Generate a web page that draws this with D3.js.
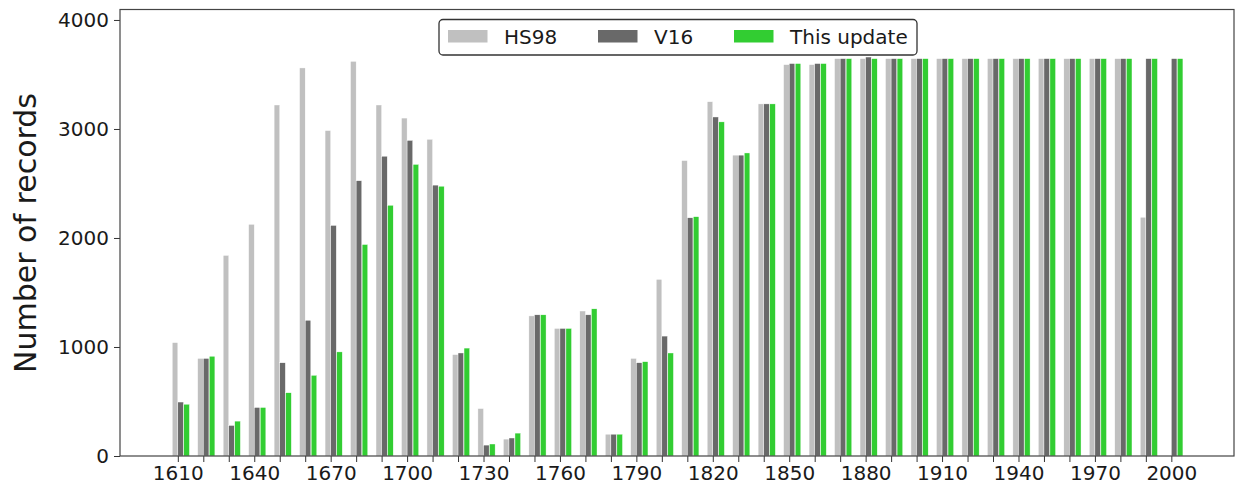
<!DOCTYPE html>
<html>
<head>
<meta charset="utf-8">
<script src="https://cdn.jsdelivr.net/npm/d3@7"></script>
<style>
  body { margin: 0; background: #fff; }
  text { font-family: "DejaVu Sans", sans-serif; fill: #1a1a1a; }
</style>
</head>
<body>
<svg id="chart" width="1238" height="489"></svg>
<script>
// decades shown on the x axis
const decades = d3.range(1610, 2001, 10);

const hs98 = [1040, 895, 1840, 2125, 3220, 3560, 2985, 3620, 3220, 3100,
  2905, 930, 435, 155, 1285, 1170, 1330, 200, 895, 1620,
  2710, 3250, 2760, 3230, 3590, 3590, 3645, 3645, 3645, 3645,
  3645, 3645, 3645, 3645, 3645, 3645, 3645, 3645, 2190, 0];

const v16 = [495, 895, 280, 445, 855, 1245, 2115, 2525, 2750, 2895,
  2485, 945, 100, 165, 1295, 1170, 1295, 200, 855, 1100,
  2185, 3110, 2760, 3230, 3600, 3600, 3645, 3660, 3645, 3645,
  3645, 3645, 3645, 3645, 3645, 3645, 3645, 3645, 3645, 3645];

const update = [475, 915, 320, 445, 580, 740, 955, 1940, 2300, 2675,
  2475, 990, 110, 210, 1295, 1170, 1350, 200, 865, 945,
  2195, 3065, 2780, 3230, 3600, 3600, 3645, 3645, 3645, 3645,
  3645, 3645, 3645, 3645, 3645, 3645, 3645, 3645, 3645, 3645];

const tickLabels = d3.range(1610, 2001, 30);
const yTicks = [0, 1000, 2000, 3000, 4000];

const series = [
  { name: 'HS98', values: hs98, color: '#c0c0c0', offset: -2.2 },
  { name: 'V16', values: v16, color: '#696969', offset: 0 },
  { name: 'This update', values: update, color: '#32cd32', offset: 2.35 }
];
const barYears = 2.2;

const margin = { left: 120, top: 9.5, right: 1234, bottom: 456 };

const svg = d3.select('#chart');

const x = d3.scaleLinear().domain([1587.3, 2024.6]).range([margin.left, margin.right]);
const y = d3.scaleLinear().domain([0, 4096]).range([margin.bottom, margin.top]);

const bars = svg.append('g');
series.forEach((s) => {
  bars.selectAll(null)
    .data(s.values.map((v, i) => ({ year: decades[i], value: v })).filter(d => d.value > 0))
    .enter()
    .append('rect')
    .attr('x', d => x(d.year + s.offset))
    .attr('width', x(1600 + barYears) - x(1600))
    .attr('y', d => y(d.value))
    .attr('height', d => y(0) - y(d.value))
    .attr('fill', s.color)
    .attr('stroke', '#fff')
    .attr('stroke-width', 0.4);
});

// x axis: tick every decade, label every 30 years
const xAxis = d3.axisBottom(x)
  .tickValues(decades)
  .tickSize(6)
  .tickPadding(4)
  .tickFormat(d => tickLabels.includes(d) ? d : '');

const gx = svg.append('g')
  .attr('transform', `translate(0, ${margin.bottom})`)
  .call(xAxis);
gx.select('.domain').remove();
gx.selectAll('line').attr('stroke', '#333').attr('stroke-width', 1);
gx.selectAll('text').style('font-size', '20px').attr('fill', '#1a1a1a');

const yAxis = d3.axisLeft(y)
  .tickValues(yTicks)
  .tickSize(6)
  .tickPadding(5)
  .tickFormat(d3.format('d'));

const gy = svg.append('g')
  .attr('transform', `translate(${margin.left}, 0)`)
  .call(yAxis);
gy.select('.domain').remove();
gy.selectAll('line').attr('stroke', '#333').attr('stroke-width', 1);
gy.selectAll('text').style('font-size', '20px').attr('fill', '#1a1a1a');

// frame
svg.append('rect')
  .attr('x', margin.left)
  .attr('y', margin.top)
  .attr('width', margin.right - margin.left)
  .attr('height', margin.bottom - margin.top)
  .attr('fill', 'none')
  .attr('stroke', '#444')
  .attr('stroke-width', 1.2);

svg.append('text')
  .attr('transform', 'translate(36, 233) rotate(-90)')
  .attr('text-anchor', 'middle')
  .style('font-size', '30px')
  .text('Number of records');

// legend
const legend = svg.append('g');
legend.append('rect')
  .attr('x', 439)
  .attr('y', 19.5)
  .attr('width', 478)
  .attr('height', 35.5)
  .attr('rx', 4)
  .attr('fill', '#fff')
  .attr('stroke', '#333')
  .attr('stroke-width', 1.3);

const legendX = [448, 598, 734];
series.forEach((s, i) => {
  legend.append('rect')
    .attr('x', legendX[i])
    .attr('y', 30)
    .attr('width', 39.5)
    .attr('height', 12.5)
    .attr('fill', s.color);
  legend.append('text')
    .attr('x', legendX[i] + 56)
    .attr('y', 43.5)
    .style('font-size', '20px')
    .text(s.name);
});
</script>
</body>
</html>
